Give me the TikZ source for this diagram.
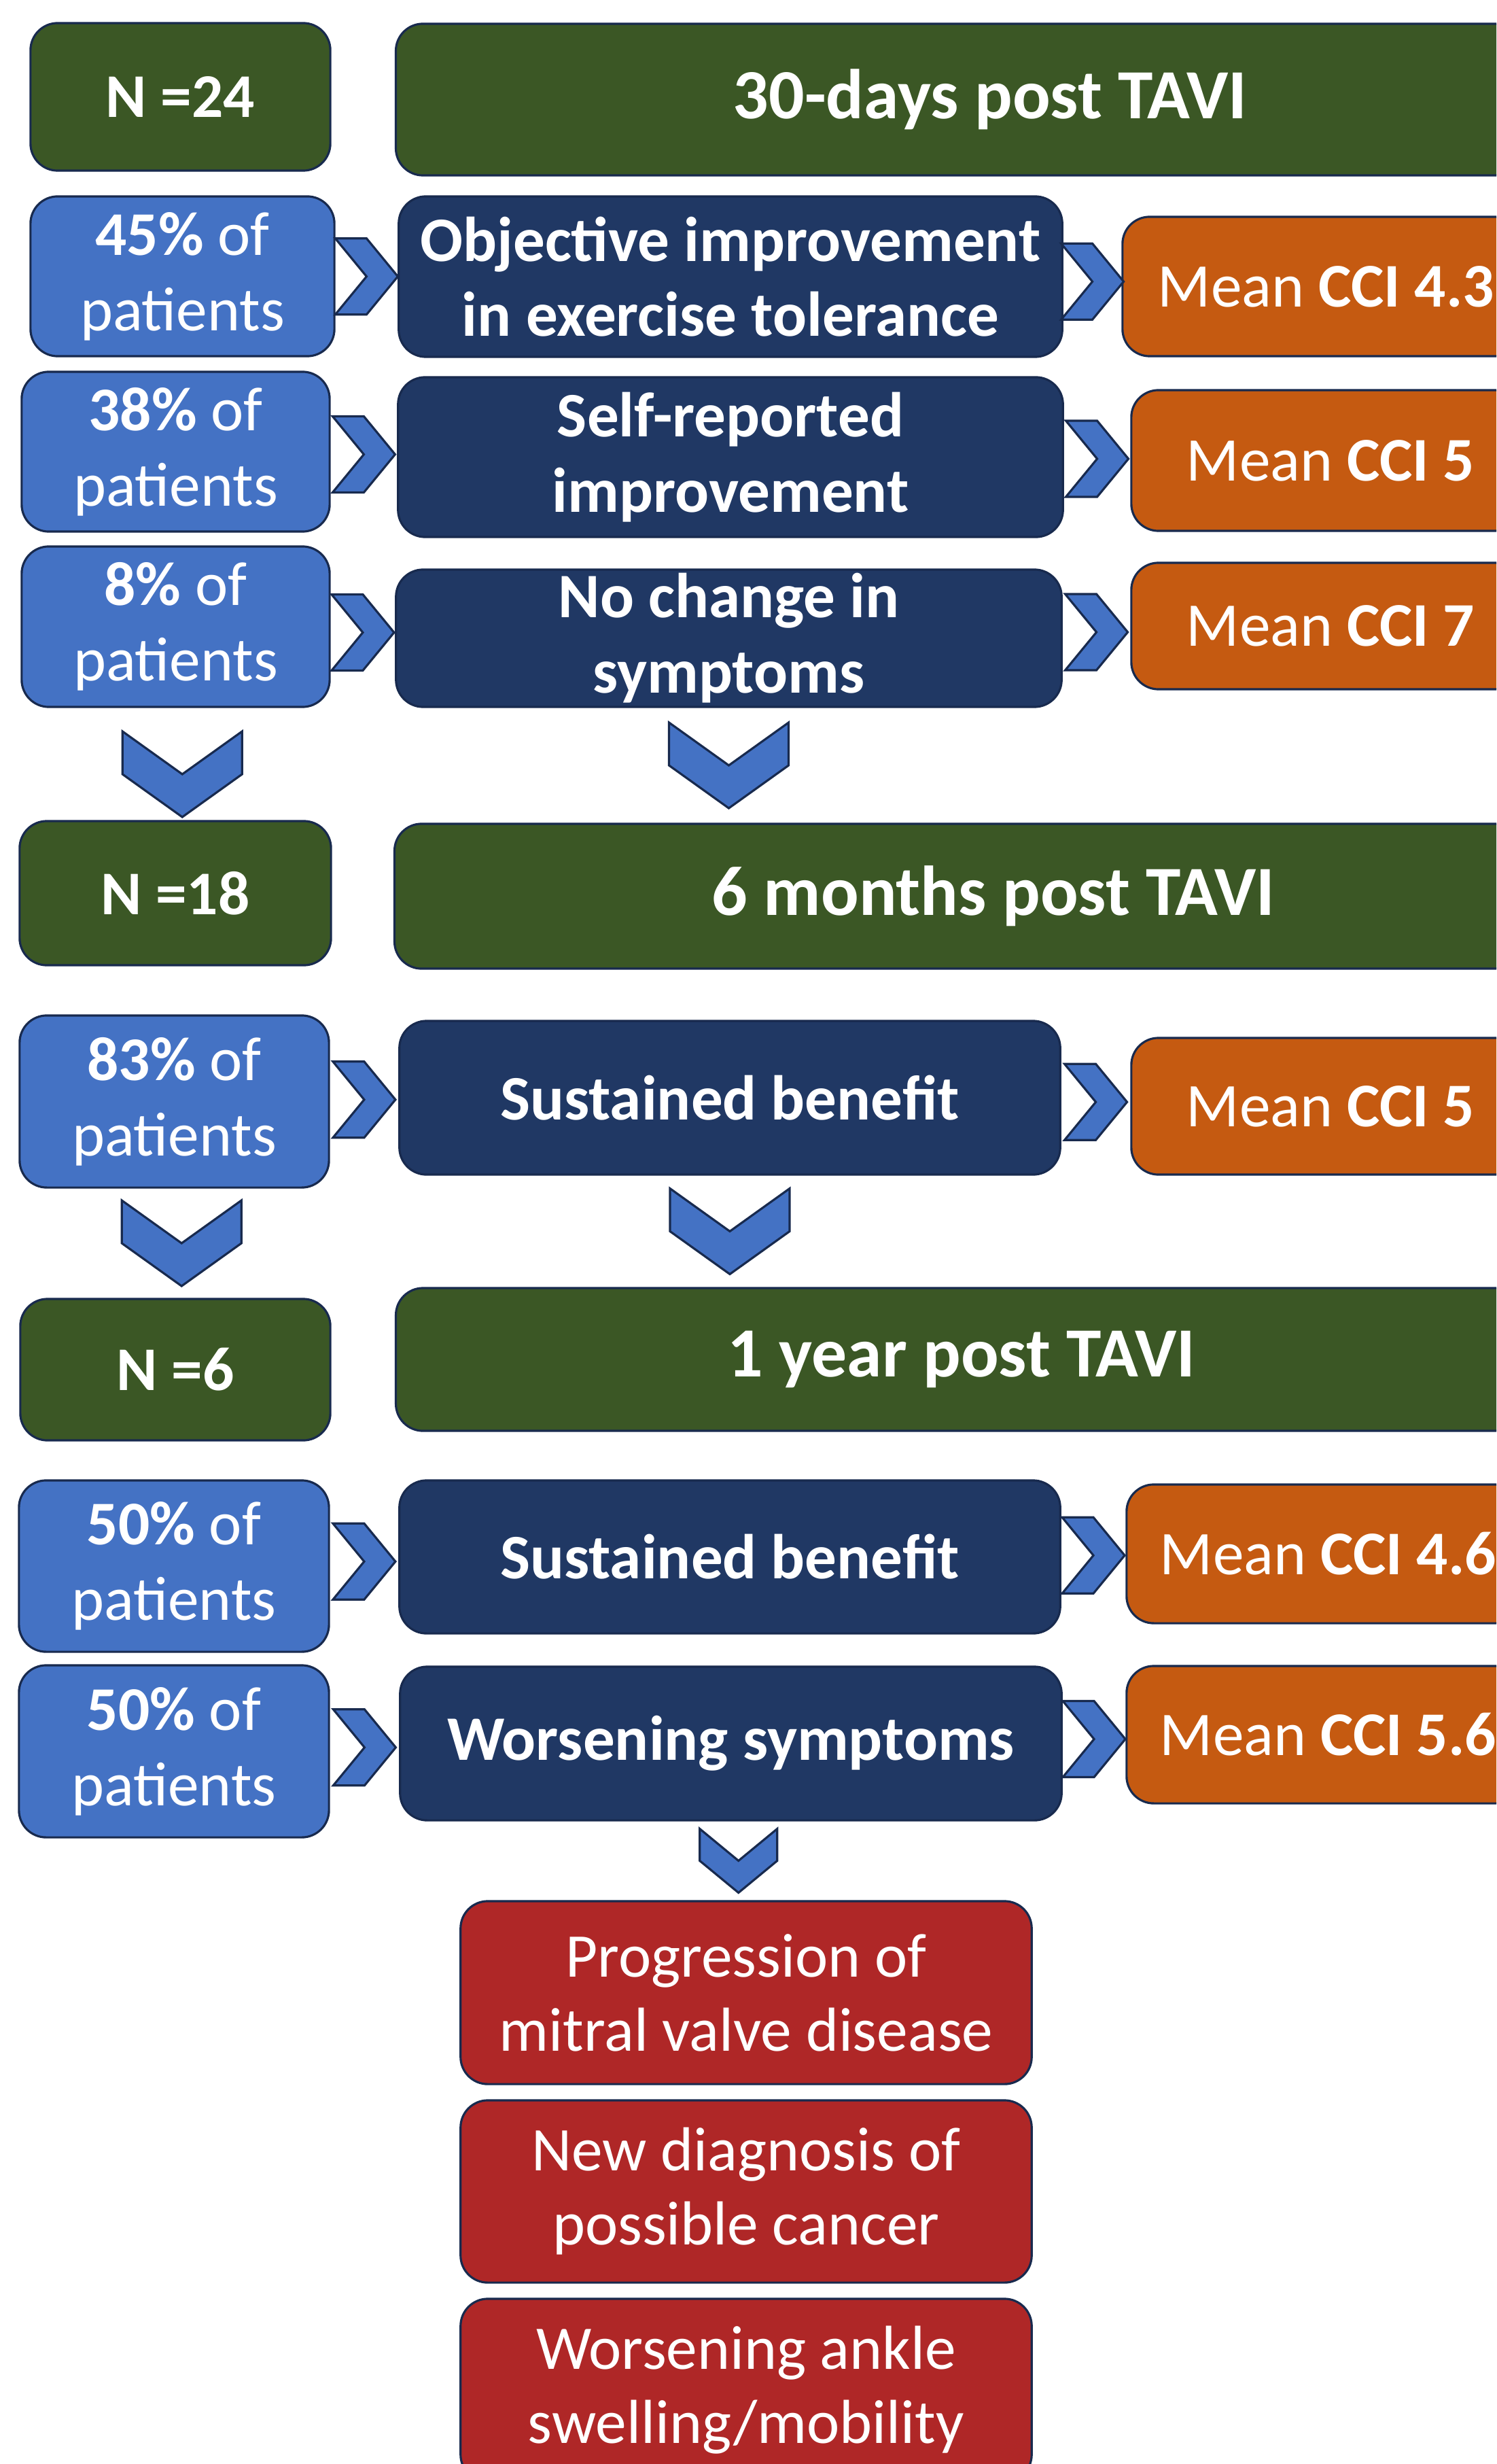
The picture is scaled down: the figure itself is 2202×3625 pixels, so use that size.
\documentclass[tikz,border=0pt]{standalone}
\usepackage{fontspec}
\setmainfont{Carlito}
\usetikzlibrary{calc}

\definecolor{grn}{RGB}{59,87,37}
\definecolor{navy}{RGB}{32,56,100}
\definecolor{lblue}{RGB}{68,114,196}
\definecolor{orng}{RGB}{197,90,17}
\definecolor{dred}{RGB}{175,39,39}
\definecolor{edge}{RGB}{24,42,78}

\tikzset{
  box/.style={rounded corners=0.4cm, draw=edge, line width=0.9pt, text=white, align=center, inner sep=0pt},
  grnbox/.style={box, fill=grn, font=\bfseries\fontsize{26}{31.5}\selectfont},
  titlebox/.style={box, fill=grn, font=\bfseries\fontsize{29.5}{34}\selectfont},
  pctbox/.style={box, fill=lblue, font=\fontsize{26}{31.5}\selectfont},
  navbox/.style={box, fill=navy, font=\bfseries\fontsize{26.5}{31.5}\selectfont},
  ccibox/.style={box, fill=orng, font=\fontsize{26}{31.5}\selectfont},
  redbox/.style={box, fill=dred, font=\fontsize{26}{31}\selectfont},
  chev/.style={fill=lblue, draw=edge, line width=0.9pt, line join=miter},
  rchev/.pic={\draw[chev] (-46,-56) -- (0,-56) -- (46,0) -- (0,56) -- (-46,56) -- (0,0) -- cycle;},
  dchev/.pic={\draw[chev] (-88,-63) -- (0,0) -- (88,-63) -- (88,0) -- (0,63) -- (-88,0) -- cycle;},
  sdchev/.pic={\draw[chev] (-57,-47) -- (0,0) -- (57,-47) -- (57,0) -- (0,47) -- (-57,0) -- cycle;},
}

\begin{document}
\begin{tikzpicture}[x=0.01cm,y=-0.01cm]
  \useasboundingbox (0,0) rectangle (2202,3625);
  \clip (0,0) rectangle (2202,3625);

  % 30 days
  \node[grnbox, minimum width=4.41cm, minimum height=2.17cm] (n1) at (265.5,142.5) {N =24};
  \node[titlebox, minimum width=17.48cm, minimum height=2.23cm] (t1) at (1457,146.5) {30-days post TAVI};

  \node[pctbox, minimum width=4.47cm, minimum height=2.35cm] (p1) at (268.5,406.5) {\textbf{45\%} of\\patients};
  \node[navbox, minimum width=9.76cm, minimum height=2.36cm] (o1) at (1075,407) {Objective improvement\\in exercise tolerance};
  \node[ccibox, minimum width=5.99cm, minimum height=2.05cm] (c1) at (1951.5,421.5) {Mean \textbf{CCI 4.3}};

  \node[pctbox, minimum width=4.53cm, minimum height=2.35cm] (p2) at (258.5,664.5) {\textbf{38\%} of\\patients};
  \node[navbox, minimum width=9.78cm, minimum height=2.35cm] (o2) at (1075,672.5) {Self-reported\\improvement};
  \node[ccibox, minimum width=5.86cm, minimum height=2.07cm] (c2) at (1958,677.5) {Mean \textbf{CCI 5}};

  \node[pctbox, minimum width=4.53cm, minimum height=2.36cm] (p3) at (258.5,922) {\textbf{8\%} of\\patients};
  \node[navbox, minimum width=9.79cm, minimum height=2.02cm] (o3) at (1072.5,939) {No change in\\symptoms};
  \node[ccibox, minimum width=5.86cm, minimum height=1.86cm] (c3) at (1958,921) {Mean \textbf{CCI 7}};

  % 6 months
  \node[grnbox, minimum width=4.58cm, minimum height=2.12cm] (n2) at (258,1314) {N =18};
  \node[titlebox, minimum width=17.62cm, minimum height=2.13cm] (t2) at (1462,1318.5) {6 months post TAVI};

  \node[pctbox, minimum width=4.55cm, minimum height=2.53cm] (p4) at (256.5,1620.5) {\textbf{83\%} of\\patients};
  \node[navbox, minimum width=9.72cm, minimum height=2.26cm] (o4) at (1074,1615) {Sustained benefit};
  \node[ccibox, minimum width=5.86cm, minimum height=2.01cm] (c4) at (1958,1627.5) {Mean \textbf{CCI 5}};

  % 1 year
  \node[grnbox, minimum width=4.56cm, minimum height=2.08cm] (n3) at (258,2015) {N =6};
  \node[titlebox, minimum width=16.64cm, minimum height=2.10cm] (t3) at (1415,2000) {1 year post TAVI};

  \node[pctbox, minimum width=4.56cm, minimum height=2.52cm] (p5) at (256,2304) {\textbf{50\%} of\\patients};
  \node[navbox, minimum width=9.72cm, minimum height=2.25cm] (o5) at (1074,2290.5) {Sustained benefit};
  \node[ccibox, minimum width=5.93cm, minimum height=2.04cm] (c5) at (1954.5,2286) {Mean \textbf{CCI 4.6}};

  \node[pctbox, minimum width=4.56cm, minimum height=2.53cm] (p6) at (256,2576.5) {\textbf{50\%} of\\patients};
  \node[navbox, minimum width=9.73cm, minimum height=2.26cm] (o6) at (1075.5,2565) {Worsening symptoms};
  \node[ccibox, minimum width=5.93cm, minimum height=2.02cm] (c6) at (1954.5,2552) {Mean \textbf{CCI 5.6}};

  % reasons for worsening
  \node[redbox, minimum width=8.40cm, minimum height=2.69cm] (r1) at (1098,2931.5) {Progression of\\mitral valve disease};
  \node[redbox, minimum width=8.40cm, minimum height=2.68cm] (r2) at (1098,3224) {New diagnosis of\\possible cancer};
  \node[redbox, minimum width=8.40cm, minimum height=2.69cm] (r3) at (1098,3516.5) {Worsening ankle\\swelling/mobility};

  % chevrons across
  \foreach \a/\b in {p1/o1,p2/o2,p3/o3,p4/o4,p5/o5,p6/o6,o1/c1,o2/c2,o3/c3,o4/c4,o5/c5,o6/c6}
    \pic at ($(\a.east)!.5!(\b.west)$) {rchev};

  % chevrons down
  \pic[xshift=0.1cm, yshift=-0.15cm] at ($(p3.south)!.5!(n2.north)$) {dchev};
  \pic at ($(o3.south)!.5!(o3.south |- t2.north)$) {dchev};
  \pic[xshift=0.1cm] at ($(p4.south)!.5!(n3.north)$) {dchev};
  \pic at ($(o4.south)!.5!(o4.south |- t3.north)$) {dchev};
  \pic at ($(o6.south)!.5!(r1.north)$) {sdchev};
\end{tikzpicture}
\end{document}
